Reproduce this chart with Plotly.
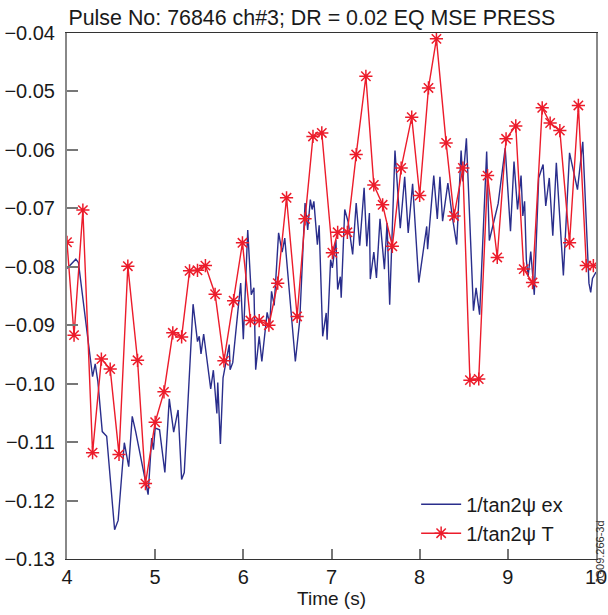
import plotly.graph_objects as go

# 1/tan2psi from the experiment (dense trace)
ex_time = [4.00, 4.04, 4.10, 4.13, 4.29, 4.32, 4.35, 4.40, 4.45, 4.54, 4.58, 4.65, 4.70, 4.74, 4.78,
           4.92, 4.96, 4.98, 5.00, 5.05, 5.11, 5.16, 5.21, 5.26, 5.30, 5.33, 5.43, 5.48, 5.50, 5.52,
           5.55, 5.63, 5.66, 5.70, 5.71, 5.74, 5.77, 5.84, 5.85, 5.88, 5.97, 6.00, 6.05, 6.09, 6.12,
           6.14, 6.18, 6.21, 6.27, 6.30, 6.32, 6.35, 6.40, 6.44, 6.47, 6.59, 6.64, 6.70, 6.73, 6.76,
           6.78, 6.80, 6.84, 6.86, 6.90, 6.94, 6.95, 6.99, 7.01, 7.05, 7.07, 7.10, 7.11, 7.15, 7.19,
           7.24, 7.28, 7.32, 7.37, 7.40, 7.43, 7.44, 7.48, 7.51, 7.55, 7.60, 7.63, 7.66, 7.72, 7.78,
           7.83, 7.87, 7.92, 7.99, 8.08, 8.09, 8.16, 8.20, 8.23, 8.26, 8.32, 8.37, 8.42, 8.47, 8.49,
           8.53, 8.61, 8.64, 8.68, 8.76, 8.79, 8.89, 8.97, 9.03, 9.07, 9.11, 9.15, 9.17, 9.19, 9.21,
           9.23, 9.26, 9.30, 9.35, 9.40, 9.43, 9.47, 9.51, 9.55, 9.63, 9.70, 9.79, 9.85, 9.92, 9.94,
           9.96, 10.00]
ex_value = [-0.0803, -0.0796, -0.0787, -0.0793, -0.0988, -0.0966, -0.0996, -0.1082, -0.1090, -0.1250,
            -0.1234, -0.1101, -0.1142, -0.1056, -0.1083, -0.1190, -0.1093, -0.1113, -0.1076, -0.1079,
            -0.1152, -0.1026, -0.1083, -0.1045, -0.1164, -0.1152, -0.0864, -0.0928, -0.0919, -0.0949,
            -0.0915, -0.1009, -0.0977, -0.1051, -0.0998, -0.1103, -0.0990, -0.0933, -0.0976, -0.0964,
            -0.0828, -0.0924, -0.0737, -0.0848, -0.0836, -0.0976, -0.0919, -0.0962, -0.0878, -0.0899,
            -0.0842, -0.0866, -0.0742, -0.0775, -0.0751, -0.0962, -0.0891, -0.0691, -0.0737, -0.0685,
            -0.0702, -0.0688, -0.0762, -0.0729, -0.0919, -0.0879, -0.0925, -0.0788, -0.0802, -0.0754,
            -0.0839, -0.0817, -0.0853, -0.0702, -0.0724, -0.0779, -0.0691, -0.0764, -0.0665, -0.0765,
            -0.0708, -0.0821, -0.0775, -0.0819, -0.0718, -0.0804, -0.0725, -0.0865, -0.0601, -0.0734,
            -0.0646, -0.0742, -0.0658, -0.0827, -0.0731, -0.0770, -0.0644, -0.0718, -0.0646, -0.0722,
            -0.0657, -0.0714, -0.0762, -0.0601, -0.0654, -0.0580, -0.0875, -0.0836, -0.0882, -0.0603,
            -0.0755, -0.0692, -0.0597, -0.0739, -0.0620, -0.0702, -0.0644, -0.0713, -0.0688, -0.0788,
            -0.0817, -0.0774, -0.0848, -0.0648, -0.0625, -0.0696, -0.0648, -0.0747, -0.0622, -0.0815,
            -0.0605, -0.0668, -0.0586, -0.0828, -0.0844, -0.0820, -0.0809]

# 1/tan2psi from the equilibrium reconstruction (T)
t_time = [4.00, 4.08, 4.18, 4.29, 4.39, 4.49, 4.59, 4.69, 4.80, 4.89, 5.00, 5.10, 5.20, 5.30, 5.39,
          5.48, 5.57, 5.68, 5.78, 5.89, 5.99, 6.08, 6.18, 6.29, 6.39, 6.49, 6.61, 6.70, 6.79, 6.89,
          7.01, 7.07, 7.18, 7.28, 7.39, 7.48, 7.58, 7.69, 7.79, 7.91, 8.00, 8.10, 8.19, 8.30, 8.39,
          8.49, 8.57, 8.67, 8.77, 8.88, 8.98, 9.09, 9.18, 9.28, 9.39, 9.48, 9.59, 9.70, 9.80, 9.89,
          9.97]
t_value = [-0.0758, -0.0917, -0.0703, -0.1118, -0.0958, -0.0975, -0.1121, -0.0799, -0.0960, -0.1171,
           -0.1066, -0.1014, -0.0913, -0.0920, -0.0807, -0.0806, -0.0798, -0.0847, -0.0961, -0.0858,
           -0.0759, -0.0892, -0.0892, -0.0900, -0.0828, -0.0682, -0.0885, -0.0718, -0.0577, -0.0571,
           -0.0776, -0.0741, -0.0741, -0.0608, -0.0474, -0.0660, -0.0694, -0.0765, -0.0631, -0.0544,
           -0.0678, -0.0494, -0.0410, -0.0588, -0.0713, -0.0631, -0.0994, -0.0992, -0.0644, -0.0784,
           -0.0581, -0.0559, -0.0804, -0.0827, -0.0528, -0.0554, -0.0567, -0.0759, -0.0524, -0.0798,
           -0.0798]

x_ticks = [4, 5, 6, 7, 8, 9, 10]
y_ticks = [-0.13, -0.12, -0.11, -0.10, -0.09, -0.08, -0.07, -0.06, -0.05, -0.04]

BLUE = "#2a2e8c"
RED = "#ec1c2b"
FONT = "Liberation Sans, Arial, Helvetica, sans-serif"

fig = go.Figure()
fig.add_trace(go.Scatter(
    x=ex_time, y=ex_value, mode="lines", name="1/tan2ψ ex",
    line=dict(color=BLUE, width=1.4),
))
fig.add_trace(go.Scatter(
    x=t_time, y=t_value, mode="lines+markers", name="1/tan2ψ T",
    line=dict(color=RED, width=1.4),
    marker=dict(symbol="asterisk-open", size=11, color=RED,
                line=dict(color=RED, width=1.5)),
))

fig.update_layout(
    width=608, height=615,
    margin=dict(l=67, r=12, t=33, b=56, autoexpand=False),
    paper_bgcolor="white", plot_bgcolor="white",
    font=dict(family=FONT, size=20, color="#1a1a1a"),
    title=dict(text="Pulse No: 76846 ch#3; DR = 0.02 EQ MSE PRESS",
               x=0.513, xref="container", xanchor="center",
               y=0.972, yref="container", yanchor="middle",
               font=dict(family=FONT, size=21.4, color="#1a1a1a")),
    showlegend=True,
    legend=dict(x=0.66, y=0.012, xanchor="left", yanchor="bottom",
                bgcolor="rgba(0,0,0,0)", borderwidth=0,
                font=dict(family=FONT, size=20, color="#1a1a1a"),
                tracegroupgap=0, itemwidth=40),
    xaxis=dict(range=[4, 10], tickvals=x_ticks, ticks="inside", ticklen=10,
               tickwidth=1.5, tickcolor="#777", showgrid=False, zeroline=False,
               showline=True, mirror=True, linecolor="#333", linewidth=1.2,
               automargin=False,
               title=dict(text="Time (s)", standoff=2, font=dict(size=19)),
               tickfont=dict(size=20)),
    yaxis=dict(range=[-0.13, -0.04], tickvals=y_ticks, tickformat=".2f",
               ticks="inside", ticklen=11, tickwidth=1.5, tickcolor="#777",
               showgrid=False, zeroline=False, showline=True, mirror=True,
               linecolor="#888", linewidth=2, ticklabelstandoff=6,
               automargin=False, tickfont=dict(size=20)),
    annotations=[dict(text="JG09.266-3d", x=1.0, y=0.0, xref="paper", yref="paper",
                      xanchor="center", yanchor="bottom", xshift=4, yshift=-26,
                      textangle=-90, showarrow=False, borderpad=0,
                      font=dict(family=FONT, size=11, color="#333"))],
)

fig.write_html("out.html")
